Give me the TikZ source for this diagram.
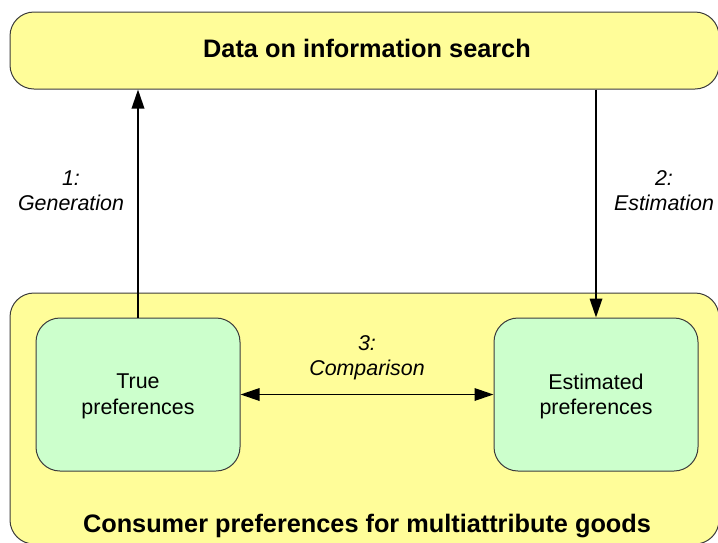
\documentclass[tikz,border=0pt]{standalone}
\usepackage{fontspec}
\setmainfont{Liberation Sans}
\usetikzlibrary{arrows.meta}
\definecolor{pyellow}{RGB}{255,253,153}
\definecolor{pgreen}{RGB}{204,255,204}
\definecolor{edgegray}{RGB}{60,60,60}
\tikzset{
  bigbox/.style={draw=edgegray, line width=1pt, fill=pyellow, rounded corners=24pt, inner sep=0pt},
  greenbox/.style={draw=edgegray, line width=1pt, fill=pgreen, rounded corners=24pt, minimum width=204pt, minimum height=153pt, inner sep=0pt, align=center, font=\fontsize{21.4}{25.7}\selectfont},
  titletext/.style={font=\fontsize{25.3}{30}\selectfont\bfseries, inner sep=0pt},
  steplabel/.style={align=center, font=\fontsize{21.4}{25}\selectfont\itshape, inner sep=0pt},
  conn/.style={line width=1.8pt, -{Triangle[length=19pt,width=12.5pt]}},
  dconn/.style={line width=1.8pt, {Triangle[length=19pt,width=12.5pt]}-{Triangle[length=19pt,width=12.5pt]}}
}
\begin{document}
\begin{tikzpicture}[x=1pt,y=-1pt]
\useasboundingbox (0,0) rectangle (718,542);
\clip (0,0) rectangle (718,542);
\node[bigbox, minimum width=709pt, minimum height=77pt] (data) at (364.5,50.5) {};
\node[titletext] (datatext) at (367,48) {Data on information search};
\node[bigbox, minimum width=709pt, minimum height=251pt] (cons) at (364.5,418.5) {};
\node[titletext] (constext) at (367,526) {Consumer preferences for multiattribute goods};
\node[greenbox] (tp) at (138,394.5) {};
\node[greenbox] (ep) at (596,394.5) {};
\node[greenbox, draw=none, fill=none] (tptext) at (138,396.5) {True\\preferences};
\node[greenbox, draw=none, fill=none] (eptext) at (596,396.5) {Estimated\\preferences};
\draw[conn] (tp.north) -- (tp.north |- data.south);
\draw[conn] (data.south -| ep.north) -- (ep.north);
\draw[dconn] (tp.east) -- (ep.west);
\node[steplabel] (l1) at (71,191) {1:\\Generation};
\node[steplabel] (l2) at (664,191) {2:\\Estimation};
\node[steplabel] (l3) at (367,358) {3:\\Comparison};
\end{tikzpicture}
\end{document}
